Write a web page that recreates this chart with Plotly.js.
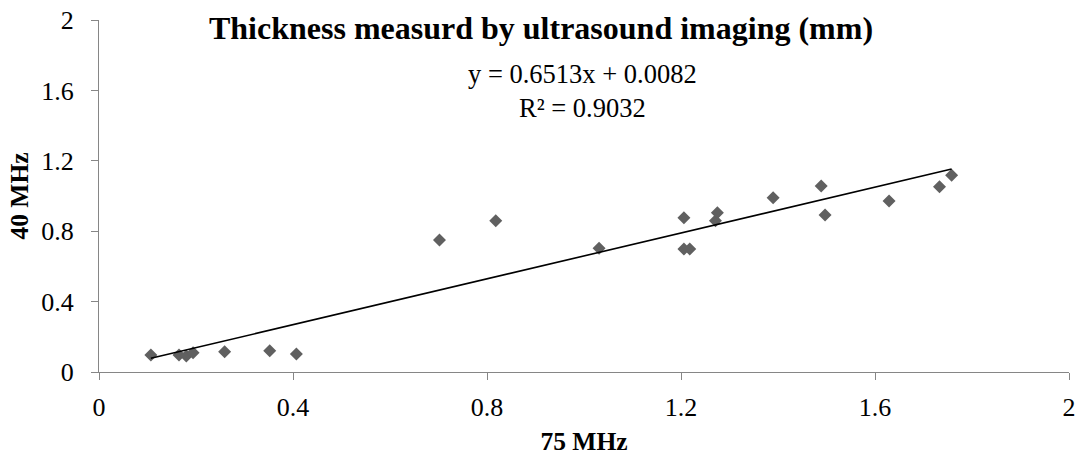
<!DOCTYPE html>
<html>
<head>
<meta charset="utf-8">
<script src="https://cdn.plot.ly/plotly-3.0.1.min.js"></script>
<style>
  html, body { margin: 0; padding: 0; background: #fff; }
  #chart { width: 1078px; height: 456px; }
</style>
</head>
<body>
<div id="chart"></div>
<script>
// Data
const mhz75 = [0.107, 0.165, 0.180, 0.194, 0.259, 0.352, 0.407, 0.702, 0.818, 1.031, 1.206, 1.206, 1.218, 1.271, 1.275, 1.390, 1.489, 1.497, 1.629, 1.733, 1.758];
const mhz40 = [0.097, 0.097, 0.091, 0.110, 0.115, 0.121, 0.102, 0.750, 0.860, 0.703, 0.877, 0.699, 0.699, 0.860, 0.905, 0.990, 1.057, 0.892, 0.972, 1.053, 1.118];
const slope = 0.6513;
const intercept = 0.0082;
const rSquared = 0.9032;
const tickVals = [0, 0.4, 0.8, 1.2, 1.6, 2];
const tickText = ['0', '0.4', '0.8', '1.2', '1.6', '2'];

const xMin = Math.min(...mhz75);
const xMax = Math.max(...mhz75);
const trendX = [xMin, xMax];
const trendY = trendX.map(v => slope * v + intercept);

const FONT = 'Liberation Serif';

const traces = [
  {
    x: mhz75, y: mhz40, type: 'scatter', mode: 'markers',
    marker: { symbol: 'diamond', size: 10, color: '#606060' },
    hoverinfo: 'x+y', showlegend: false
  },
  {
    x: trendX, y: trendY, type: 'scatter', mode: 'lines',
    line: { color: '#000000', width: 1.6 },
    hoverinfo: 'skip', showlegend: false
  }
];

const axisCommon = {
  range: [0, 2], tickvals: tickVals, ticktext: tickText,
  showgrid: false, zeroline: false, showline: true,
  linecolor: '#868686', linewidth: 1,
  ticks: 'outside', ticklen: 7, tickcolor: '#868686', tickwidth: 1,
  tickfont: { family: FONT, size: 26, color: '#000' },
  fixedrange: true
};

const layout = {
  width: 1078, height: 456,
  margin: { l: 99, r: 9, t: 20, b: 84 },
  paper_bgcolor: '#fff', plot_bgcolor: '#fff',
  font: { family: FONT },
  title: {
    text: '<b>Thickness measurd by ultrasound imaging (mm)</b>',
    font: { family: FONT, size: 32, color: '#000' },
    x: 541 / 1078, xanchor: 'center', xref: 'container',
    y: 1 - 28 / 456, yanchor: 'middle', yref: 'container'
  },
  xaxis: Object.assign({}, axisCommon, {
    ticklabelstandoff: 5,
    title: { text: '<b>75 MHz</b>', font: { family: FONT, size: 25.5, color: '#000' }, standoff: 12 }
  }),
  yaxis: Object.assign({}, axisCommon, {
    ticklabelstandoff: 12,
    title: { text: '<b>40 MHz</b>', font: { family: FONT, size: 25.5, color: '#000' }, standoff: 5 }
  }),
  annotations: [
    {
      xref: 'paper', yref: 'paper',
      x: (582 - 99) / 970, y: (372 - 91) / 352,
      xanchor: 'center', yanchor: 'middle',
      text: 'y = ' + slope + 'x + ' + intercept.toFixed(4) + '<br>R² = ' + rSquared,
      showarrow: false, align: 'center',
      font: { family: FONT, size: 26.5, color: '#000' }
    }
  ]
};

Plotly.newPlot('chart', traces, layout, { displayModeBar: false, staticPlot: true });
</script>
</body>
</html>
